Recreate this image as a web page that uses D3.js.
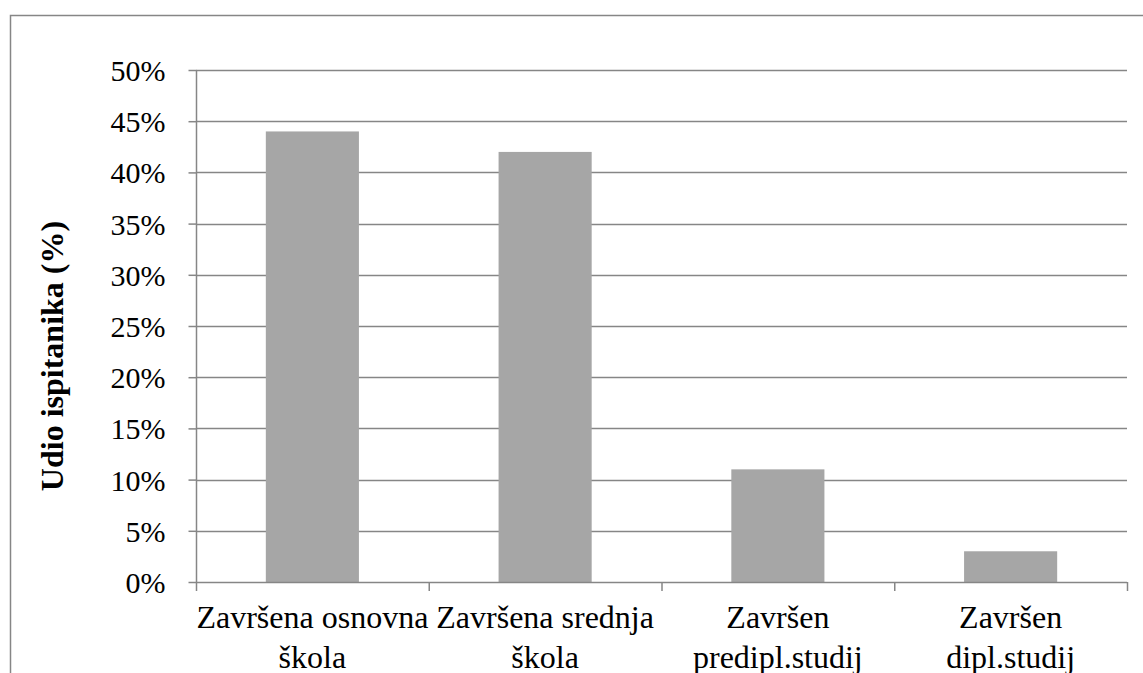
<!DOCTYPE html>
<html>
<head>
<meta charset="utf-8">
<script src="https://cdn.jsdelivr.net/npm/d3@7/dist/d3.min.js"></script>
<style>
  body { margin: 0; background: #fff; overflow: hidden; }
  svg { display: block; }
  svg text { font-family: "Liberation Serif", "Times New Roman", "DejaVu Serif", serif; font-size: 32px; fill: #000; }
</style>
</head>
<body>
<svg id="svg" width="1143" height="673"></svg>
<script>
// data
const categories = [
  ["Završena osnovna", "škola"],
  ["Završena srednja", "škola"],
  ["Završen", "predipl.studij"],
  ["Završen", "dipl.studij"]
];
const values = [44, 42, 11, 3];
const yTicks = [0, 5, 10, 15, 20, 25, 30, 35, 40, 45, 50];
const yLabel = "Udio ispitanika (%)";

const svg = d3.select("#svg");

// outer chart border (runs off the right and bottom of the window)
svg.append("rect")
  .attr("x", 10.5).attr("y", 15.5)
  .attr("width", 1200).attr("height", 700)
  .attr("fill", "none")
  .attr("stroke", "#868686")
  .attr("stroke-width", 1.5);

const plotLeft = 196, plotRight = 1127, plotTop = 70, plotBottom = 582;

const x = d3.scaleBand()
  .domain(d3.range(categories.length))
  .range([plotLeft, plotRight])
  .paddingInner(0.6)
  .paddingOuter(0.3);

const xEdges = d3.scalePoint()
  .domain(d3.range(categories.length + 1))
  .range([plotLeft, plotRight]);

const y = d3.scaleLinear().domain([0, 50]).range([plotBottom, plotTop]);

// gridlines
svg.append("g")
  .selectAll("line")
  .data(yTicks.filter(d => d > 0))
  .join("line")
  .attr("x1", plotLeft).attr("x2", plotRight)
  .attr("y1", d => Math.round(y(d)) + 0.5)
  .attr("y2", d => Math.round(y(d)) + 0.5)
  .attr("stroke", "#868686")
  .attr("stroke-width", 1.5);

// bars
svg.append("g")
  .selectAll("rect")
  .data(values)
  .join("rect")
  .attr("x", (d, i) => x(i))
  .attr("width", x.bandwidth())
  .attr("y", d => y(d))
  .attr("height", d => y(0) - y(d))
  .attr("fill", "#a6a6a6");

// y axis
const yAxis = d3.axisLeft(y)
  .tickValues(yTicks)
  .tickFormat(d => d + "%")
  .tickSize(8)
  .tickPadding(23);

const gy = svg.append("g")
  .attr("transform", `translate(${plotLeft + 0.5},0)`)
  .call(yAxis);
gy.attr("font-family", null).attr("font-size", null);
gy.select(".domain").attr("stroke", "#868686").attr("stroke-width", 1.5)
  .attr("d", `M0,${plotTop}V${plotBottom}`);
gy.selectAll(".tick line").attr("stroke", "#868686").attr("stroke-width", 1.5);
gy.selectAll(".tick text").attr("dy", "0.35em").style("font-size", "30px");

// x axis line and category ticks
svg.append("line")
  .attr("x1", plotLeft).attr("x2", plotRight)
  .attr("y1", plotBottom + 0.5).attr("y2", plotBottom + 0.5)
  .attr("stroke", "#868686").attr("stroke-width", 1.5);

svg.append("g")
  .selectAll("line")
  .data(xEdges.domain())
  .join("line")
  .attr("x1", d => xEdges(d) + 0.5).attr("x2", d => xEdges(d) + 0.5)
  .attr("y1", plotBottom).attr("y2", plotBottom + 9)
  .attr("stroke", "#868686").attr("stroke-width", 1.5);

// x labels
const xl = svg.append("g")
  .selectAll("text")
  .data(categories)
  .join("text")
  .attr("x", (d, i) => x(i) + x.bandwidth() / 2)
  .attr("y", 628)
  .attr("text-anchor", "middle");
xl.selectAll("tspan")
  .data(d => d)
  .join("tspan")
  .attr("x", function() { return this.parentNode.getAttribute("x"); })
  .attr("dy", (d, i) => i === 0 ? 0 : 40)
  .text(d => d);

// y axis title
svg.append("text")
  .attr("transform", "translate(63,356) rotate(-90)")
  .attr("text-anchor", "middle")
  .style("font-weight", "bold")
  .text(yLabel);
</script>
</body>
</html>
